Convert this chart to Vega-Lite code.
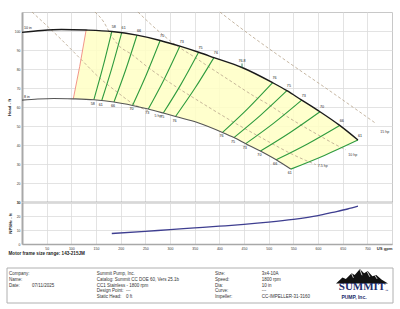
{
  "$schema": "https://vega.github.io/schema/vega-lite/v6.json",
  "background": "white",
  "padding": {"left": 6, "top": 9, "right": 4, "bottom": 2},
  "config": {
    "font": "Liberation Sans",
    "view": {"stroke": "#c8c8c8", "strokeWidth": 1},
    "axis": {"labelColor": "#333333", "titleColor": "#222222", "gridColor": "#dcdcdc", "gridWidth": 0.8, "labelFont": "Liberation Sans", "titleFont": "Liberation Sans"}
  },
  "datasets": {
    "top": [
      {"q": 0, "H": 99.3}, {"q": 40, "H": 100.3}, {"q": 80, "H": 100.8}, {"q": 130, "H": 100.5},
      {"q": 182, "H": 99.7}, {"q": 233, "H": 97.8}, {"q": 280, "H": 95.0}, {"q": 320, "H": 92.0},
      {"q": 358, "H": 88.8}, {"q": 389, "H": 86.0}, {"q": 446, "H": 80.8}, {"q": 508, "H": 72.8},
      {"q": 537, "H": 68.6}, {"q": 567, "H": 63.6}, {"q": 604, "H": 57.5}, {"q": 644, "H": 50.3},
      {"q": 681, "H": 42.6}
    ],
    "bot": [
      {"q": 0, "H": 63.6}, {"q": 32, "H": 64.2}, {"q": 64, "H": 64.5}, {"q": 104, "H": 64.3},
      {"q": 145.6, "H": 63.8}, {"q": 186.4, "H": 62.6}, {"q": 224, "H": 60.8}, {"q": 256, "H": 58.9},
      {"q": 286.4, "H": 56.8}, {"q": 311.2, "H": 55.0}, {"q": 356.8, "H": 51.7}, {"q": 406.4, "H": 46.6},
      {"q": 429.6, "H": 43.9}, {"q": 453.6, "H": 40.7}, {"q": 483.2, "H": 36.8}, {"q": 515.2, "H": 32.2},
      {"q": 544.8, "H": 27.3}
    ],
    "region": [
      {"i": 0, "q": 130, "H": 100.5}, {"i": 1, "q": 182, "H": 99.7}, {"i": 2, "q": 233, "H": 97.8},
      {"i": 3, "q": 280, "H": 95.0}, {"i": 4, "q": 320, "H": 92.0}, {"i": 5, "q": 358, "H": 88.8},
      {"i": 6, "q": 389, "H": 86.0}, {"i": 7, "q": 446, "H": 80.8}, {"i": 8, "q": 508, "H": 72.8},
      {"i": 9, "q": 537, "H": 68.6}, {"i": 10, "q": 567, "H": 63.6}, {"i": 11, "q": 604, "H": 57.5},
      {"i": 12, "q": 644, "H": 50.3}, {"i": 13, "q": 681, "H": 42.6}, {"i": 14, "q": 612.9, "H": 34.5},
      {"i": 15, "q": 544.8, "H": 27.3}, {"i": 16, "q": 515.2, "H": 32.2}, {"i": 17, "q": 483.2, "H": 36.8},
      {"i": 18, "q": 453.6, "H": 40.7}, {"i": 19, "q": 429.6, "H": 43.9}, {"i": 20, "q": 406.4, "H": 46.6},
      {"i": 21, "q": 356.8, "H": 51.7}, {"i": 22, "q": 311.2, "H": 55.0}, {"i": 23, "q": 286.4, "H": 56.8},
      {"i": 24, "q": 256, "H": 58.9}, {"i": 25, "q": 224, "H": 60.8}, {"i": 26, "q": 186.4, "H": 62.6},
      {"i": 27, "q": 145.6, "H": 63.8}, {"i": 28, "q": 104, "H": 64.3}, {"i": 29, "q": 117, "H": 81.4}
    ],
    "minflow": [
      {"i": 0, "q": 130, "H": 100.5}, {"i": 1, "q": 117, "H": 81.4}, {"i": 2, "q": 104, "H": 64.3}
    ],
    "eff": [
      {"id": "A", "eff": "58", "i": 0, "q": 182, "H": 99.7}, {"id": "A", "eff": "58", "i": 1, "q": 163.8, "H": 80.8}, {"id": "A", "eff": "58", "i": 2, "q": 145.6, "H": 63.8},
      {"id": "B", "eff": "61", "i": 0, "q": 202, "H": 99.0}, {"id": "B", "eff": "61", "i": 1, "q": 181.8, "H": 80.2}, {"id": "B", "eff": "61", "i": 2, "q": 161.6, "H": 63.4},
      {"id": "C", "eff": "66", "i": 0, "q": 233, "H": 97.8}, {"id": "C", "eff": "66", "i": 1, "q": 209.7, "H": 79.2}, {"id": "C", "eff": "66", "i": 2, "q": 186.4, "H": 62.6},
      {"id": "D", "eff": "70", "i": 0, "q": 280, "H": 95.0}, {"id": "D", "eff": "70", "i": 1, "q": 252, "H": 77.0}, {"id": "D", "eff": "70", "i": 2, "q": 224, "H": 60.8},
      {"id": "E", "eff": "73", "i": 0, "q": 320, "H": 92.0}, {"id": "E", "eff": "73", "i": 1, "q": 288, "H": 74.5}, {"id": "E", "eff": "73", "i": 2, "q": 256, "H": 58.9},
      {"id": "F", "eff": "75", "i": 0, "q": 358, "H": 88.8}, {"id": "F", "eff": "75", "i": 1, "q": 322.2, "H": 71.9}, {"id": "F", "eff": "75", "i": 2, "q": 286.4, "H": 56.8},
      {"id": "G", "eff": "76", "i": 0, "q": 389, "H": 86.0}, {"id": "G", "eff": "76", "i": 1, "q": 350.1, "H": 69.7}, {"id": "G", "eff": "76", "i": 2, "q": 311.2, "H": 55.0},
      {"id": "H", "eff": "76", "i": 0, "q": 508, "H": 72.8}, {"id": "H", "eff": "76", "i": 1, "q": 457.2, "H": 59.0}, {"id": "H", "eff": "76", "i": 2, "q": 406.4, "H": 46.6},
      {"id": "I", "eff": "75", "i": 0, "q": 537, "H": 68.6}, {"id": "I", "eff": "75", "i": 1, "q": 483.3, "H": 55.6}, {"id": "I", "eff": "75", "i": 2, "q": 429.6, "H": 43.9},
      {"id": "J", "eff": "73", "i": 0, "q": 567, "H": 63.6}, {"id": "J", "eff": "73", "i": 1, "q": 510.3, "H": 51.5}, {"id": "J", "eff": "73", "i": 2, "q": 453.6, "H": 40.7},
      {"id": "K", "eff": "70", "i": 0, "q": 604, "H": 57.5}, {"id": "K", "eff": "70", "i": 1, "q": 543.6, "H": 46.6}, {"id": "K", "eff": "70", "i": 2, "q": 483.2, "H": 36.8},
      {"id": "L", "eff": "66", "i": 0, "q": 644, "H": 50.3}, {"id": "L", "eff": "66", "i": 1, "q": 579.6, "H": 40.7}, {"id": "L", "eff": "66", "i": 2, "q": 515.2, "H": 32.2},
      {"id": "M", "eff": "61", "i": 0, "q": 681, "H": 42.6}, {"id": "M", "eff": "61", "i": 1, "q": 612.9, "H": 34.5}, {"id": "M", "eff": "61", "i": 2, "q": 544.8, "H": 27.3}
    ],
    "hp": [
      {"hp": "5", "i": 0, "q": 20.3, "H": 110}, {"hp": "5", "i": 1, "q": 77, "H": 96.2}, {"hp": "5", "i": 2, "q": 119.5, "H": 85.1},
      {"hp": "5", "i": 3, "q": 156, "H": 75.6}, {"hp": "5", "i": 4, "q": 193.6, "H": 67.7}, {"hp": "5", "i": 5, "q": 224, "H": 61.9},
      {"hp": "5", "i": 6, "q": 255.2, "H": 58.0},
      {"hp": "7.5", "i": 0, "q": 147.9, "H": 110}, {"hp": "7.5", "i": 1, "q": 166.1, "H": 104.6}, {"hp": "7.5", "i": 2, "q": 178.2, "H": 98.8},
      {"hp": "7.5", "i": 3, "q": 195.5, "H": 92.5}, {"hp": "7.5", "i": 4, "q": 221.6, "H": 87.8}, {"hp": "7.5", "i": 5, "q": 257.8, "H": 80.4},
      {"hp": "7.5", "i": 6, "q": 289, "H": 74.7}, {"hp": "7.5", "i": 7, "q": 317.8, "H": 69.7}, {"hp": "7.5", "i": 8, "q": 341.1, "H": 65.9},
      {"hp": "7.5", "i": 9, "q": 382.8, "H": 59.2}, {"hp": "7.5", "i": 10, "q": 430.8, "H": 51.7}, {"hp": "7.5", "i": 11, "q": 478.4, "H": 44.8},
      {"hp": "7.5", "i": 12, "q": 509.2, "H": 40.4}, {"hp": "7.5", "i": 13, "q": 544.9, "H": 35.5}, {"hp": "7.5", "i": 14, "q": 582.3, "H": 31.1},
      {"hp": "7.5", "i": 15, "q": 595.5, "H": 29.7},
      {"hp": "10", "i": 0, "q": 235, "H": 110}, {"hp": "10", "i": 1, "q": 279.5, "H": 99.3}, {"hp": "10", "i": 2, "q": 307.9, "H": 93.3},
      {"hp": "10", "i": 3, "q": 350, "H": 86.2}, {"hp": "10", "i": 4, "q": 375.5, "H": 81.7}, {"hp": "10", "i": 5, "q": 421.5, "H": 73.9},
      {"hp": "10", "i": 6, "q": 474.2, "H": 65.1}, {"hp": "10", "i": 7, "q": 499.9, "H": 61.3}, {"hp": "10", "i": 8, "q": 526.8, "H": 56.7},
      {"hp": "10", "i": 9, "q": 560.3, "H": 51.3}, {"hp": "10", "i": 10, "q": 599.8, "H": 45.4}, {"hp": "10", "i": 11, "q": 640.7, "H": 39.5},
      {"hp": "10", "i": 12, "q": 656.3, "H": 37.5},
      {"hp": "15", "i": 0, "q": 401, "H": 110}, {"hp": "15", "i": 1, "q": 461.8, "H": 98.0}, {"hp": "15", "i": 2, "q": 542.8, "H": 83.0},
      {"hp": "15", "i": 3, "q": 623.9, "H": 68.5}, {"hp": "15", "i": 4, "q": 717, "H": 51.4}
    ],
    "hplab": [
      {"t": "5 hp", "q": 275.5, "H": 55.3}, {"t": "7.5 hp", "q": 609.7, "H": 28.8},
      {"t": "10 hp", "q": 670.4, "H": 34.6}, {"t": "15 hp", "q": 735.3, "H": 46.7}
    ],
    "dia": [
      {"t": "10 in", "q": 4, "H": 101.4}, {"t": "8 in", "q": 4, "H": 65.1}
    ],
    "bep": [
      {"t": "76.8", "q": 446, "H": 80.8}
    ],
    "npsh": [
      {"q": 182, "N": 7.5}, {"q": 250, "N": 9.0}, {"q": 300, "N": 10.3}, {"q": 350, "N": 11.5},
      {"q": 400, "N": 12.7}, {"q": 450, "N": 14.0}, {"q": 500, "N": 15.6}, {"q": 550, "N": 17.6},
      {"q": 600, "N": 20.3}, {"q": 630, "N": 22.6}, {"q": 660, "N": 25.0}, {"q": 681, "N": 27.0}
    ],
    "info": [
      {"col": 1, "row": 1, "t": "Company:"}, {"col": 1, "row": 2, "t": "Name:"}, {"col": 1, "row": 3, "t": "Date:"},
      {"col": 2, "row": 3, "t": "07/11/2025"},
      {"col": 3, "row": 1, "t": "Summit Pump, Inc."}, {"col": 3, "row": 2, "t": "Catalog: Summit CC DOE 60, Vers 25.1b"},
      {"col": 3, "row": 3, "t": "CC1 Stainless - 1800 rpm"}, {"col": 3, "row": 4, "t": "Design Point:"},
      {"col": 3, "row": 5, "t": "Static Head:"}, {"col": 3.25, "row": 4, "t": "---"}, {"col": 3.25, "row": 5, "t": "0 ft"},
      {"col": 4, "row": 1, "t": "Size:"}, {"col": 4, "row": 2, "t": "Speed:"}, {"col": 4, "row": 3, "t": "Dia:"},
      {"col": 4, "row": 4, "t": "Curve:"}, {"col": 4, "row": 5, "t": "Impeller:"},
      {"col": 5, "row": 1, "t": "3x4-10A"}, {"col": 5, "row": 2, "t": "1800 rpm"}, {"col": 5, "row": 3, "t": "10 in"},
      {"col": 5, "row": 4, "t": "---"}, {"col": 5, "row": 5, "t": "CC-IMPELLER-31-3160"}
    ]
  },
  "spacing": 11,
  "vconcat": [
    {
      "spacing": 0,
      "bounds": "flush",
      "vconcat": [
        {
          "width": 370,
          "height": 190,
          "encoding": {
            "x": {"field": "q", "type": "quantitative", "scale": {"domain": [0, 750], "nice": false, "zero": false},
              "axis": {"values": [50, 100, 150, 200, 250, 300, 350, 400, 450, 500, 550, 600, 650, 700], "labels": false, "ticks": false, "domain": true, "domainColor": "#7a7a7a", "domainWidth": 1.3, "grid": true, "title": null}},
            "y": {"field": "H", "type": "quantitative", "scale": {"domain": [10, 110], "nice": false, "zero": false},
              "axis": {"values": [10, 20, 30, 40, 50, 60, 70, 80, 90, 100], "ticks": false, "labelPadding": 2, "labelFontSize": 3.4, "domainColor": "#a8a8a8", "domainWidth": 2, "grid": true, "title": "Head - ft", "titleFontSize": 4.3, "titleFontWeight": "bold", "titlePadding": 3}}
          },
          "layer": [
            {"data": {"name": "region"}, "mark": {"type": "line", "fill": "#ffffc4", "fillOpacity": 0.85, "stroke": "transparent", "strokeWidth": 0, "interpolate": "linear"},
              "encoding": {"order": {"field": "i", "type": "quantitative"}}},
            {"data": {"name": "hp"}, "mark": {"type": "line", "stroke": "#b8a48c", "strokeWidth": 0.8, "strokeDash": [3, 2.2], "interpolate": "monotone"},
              "encoding": {"detail": {"field": "hp"}, "order": {"field": "i", "type": "quantitative"}}},
            {"data": {"name": "minflow"}, "mark": {"type": "line", "stroke": "#f08a80", "strokeWidth": 0.9, "interpolate": "linear"},
              "encoding": {"order": {"field": "i", "type": "quantitative"}}},
            {"data": {"name": "eff"}, "mark": {"type": "line", "stroke": "#2e9b3e", "strokeWidth": 1.1, "interpolate": "natural"},
              "encoding": {"detail": {"field": "id"}, "order": {"field": "i", "type": "quantitative"}}},
            {"data": {"name": "bot"}, "mark": {"type": "line", "stroke": "#555555", "strokeWidth": 1.1, "interpolate": "monotone"}, "encoding": {}},
            {"data": {"name": "top"}, "mark": {"type": "line", "stroke": "#1a1a1a", "strokeWidth": 1.4, "interpolate": "monotone"}, "encoding": {}},
            {"data": {"name": "bep"}, "mark": {"type": "point", "shape": "M0,0L0,-1", "size": 64, "filled": false, "stroke": "#2e7d5b", "strokeWidth": 0.9, "opacity": 1}},
            {"data": {"name": "bep"}, "mark": {"type": "text", "fontSize": 3.7, "dy": -6.5, "color": "#222222"}, "encoding": {"text": {"field": "t"}}},
            {"data": {"name": "eff"}, "transform": [{"filter": "datum.i == 0"}], "mark": {"type": "text", "fontSize": 3.7, "dx": 2, "dy": -4.5, "color": "#222222"}, "encoding": {"text": {"field": "eff"}}},
            {"data": {"name": "eff"}, "transform": [{"filter": "datum.i == 2"}], "mark": {"type": "text", "fontSize": 3.7, "dx": -1, "dy": 4, "color": "#222222"}, "encoding": {"text": {"field": "eff"}}},
            {"data": {"name": "hplab"}, "mark": {"type": "text", "fontSize": 3.6, "color": "#333333"}, "encoding": {"text": {"field": "t"}}},
            {"data": {"name": "dia"}, "mark": {"type": "text", "fontSize": 3.6, "align": "left", "color": "#222222"}, "encoding": {"text": {"field": "t"}}}
          ]
        },
        {
          "width": 370,
          "height": 42,
          "data": {"name": "npsh"},
          "mark": {"type": "line", "stroke": "#3e3e90", "strokeWidth": 1.3, "interpolate": "monotone"},
          "encoding": {
            "x": {"field": "q", "type": "quantitative", "scale": {"domain": [0, 750], "nice": false, "zero": false},
              "axis": {"values": [0, 50, 100, 150, 200, 250, 300, 350, 400, 450, 500, 550, 600, 650, 700, 750],
                "labelExpr": "datum.value == 0 ? '' : datum.value == 750 ? 'US gpm' : datum.label",
                "labelFontSize": {"condition": {"test": "datum.value == 750", "value": 4.2}, "value": 3.5},
                "labelFontWeight": {"condition": {"test": "datum.value == 750", "value": "bold"}, "value": "normal"},
                "labelAlign": {"condition": {"test": "datum.value == 750", "value": "right"}, "value": "center"},
                "labelFlush": false, "labelOverlap": false, "labelPadding": 2, "ticks": false, "grid": true,
                "domainColor": "#a8a8a8", "domainWidth": 1.5,
                "title": "Motor frame size range: 143-215JM", "titleFontSize": 4.6, "titleFontWeight": "bold",
                "titleAnchor": "start", "titleAlign": "left", "titleX": -14, "titleY": 9, "titleBaseline": "middle"}},
            "y": {"field": "N", "type": "quantitative", "scale": {"domain": [0, 30], "nice": false, "zero": false},
              "axis": {"values": [0, 10, 20, 30], "ticks": false, "labelPadding": 2, "labelFontSize": 3.4, "domainColor": "#a8a8a8", "domainWidth": 2, "grid": true,
                "title": "NPSHr - ft", "titleFontSize": 4.3, "titleFontWeight": "bold", "titleX": -10}}
          }
        }
      ]
    },
    {
      "width": 370,
      "height": 35,
      "view": {"stroke": null},
      "encoding": {
        "x": {"field": "col", "type": "quantitative", "scale": {"domain": [0, 1, 2, 3, 3.25, 4, 5, 6, 7], "range": [-15, -13, 10, 74.7, 104, 193, 239.7, 340, 371], "nice": false, "zero": false}, "axis": null},
        "y": {"field": "row", "type": "quantitative", "scale": {"domain": [0, 1, 5, 6], "range": [0, 5.6, 29.4, 35], "nice": false, "zero": false}, "axis": null}
      },
      "layer": [
        {"data": {"values": [{"col": 0, "col2": 7, "row": 0, "row2": 6}]}, "mark": {"type": "rect", "fill": "white", "stroke": "#b0b0b0", "strokeWidth": 1},
          "encoding": {"x2": {"field": "col2"}, "y2": {"field": "row2"}}},
        {"data": {"name": "info"}, "mark": {"type": "text", "align": "left", "fontSize": 4.5, "color": "#333333"}, "encoding": {"text": {"field": "t"}}},
        {"data": {"values": [{"col": 6, "row": 1.45}]}, "mark": {"type": "point", "shape": "M-1,0.28L-0.75,0.05L-0.62,0.1L-0.4,-0.12L-0.28,-0.05L-0.08,-0.28L0.08,-0.12L0.22,-0.2L0.4,0.0L0.55,-0.05L0.75,0.12L1,0.28Z", "size": 2704, "filled": true, "fill": "#111111", "strokeWidth": 0, "opacity": 1}},
        {"data": {"values": [{"col": 6, "row": 1.45}]}, "mark": {"type": "point", "shape": "M-0.08,-0.26L0.0,-0.04M0.2,-0.18L0.3,0.02M-0.4,-0.1L-0.33,0.06M0.5,-0.03L0.58,0.1", "size": 2704, "filled": false, "stroke": "#ffffff", "strokeWidth": 0.8, "opacity": 1}},
        {"data": {"values": [{"col": 6, "row": 3.3, "t": "SUMMIT"}]}, "mark": {"type": "text", "font": "Liberation Serif", "fontWeight": "bold", "fontSize": 11, "color": "#1c2b6b"}, "encoding": {"text": {"field": "t"}}},
        {"data": {"values": [{"col": 6.8, "row": 4.0, "t": "™"}]}, "mark": {"type": "text", "fontSize": 3.5, "color": "#1c2b6b"}, "encoding": {"text": {"field": "t"}}},
        {"data": {"values": [{"col": 5.92, "row": 5, "t": "PUMP, Inc."}]}, "mark": {"type": "text", "fontWeight": "bold", "fontSize": 5, "color": "#1c2b6b"}, "encoding": {"text": {"field": "t"}}}
      ]
    }
  ]
}
